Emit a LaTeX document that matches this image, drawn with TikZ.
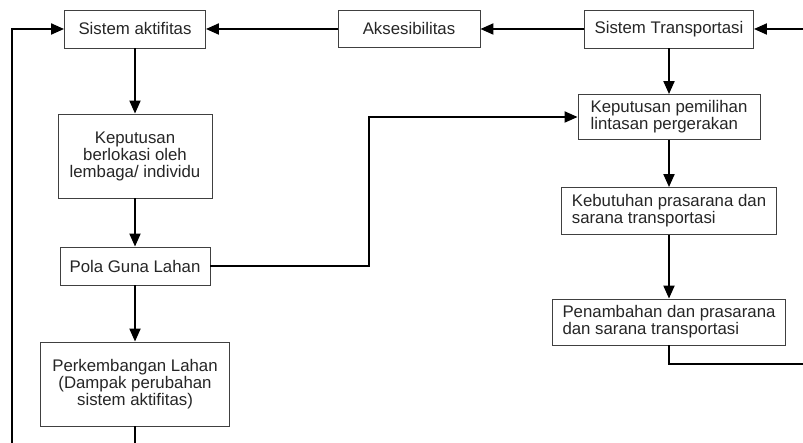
\documentclass[tikz,border=0pt]{standalone}
\usepackage{fontspec}
\setmainfont{Liberation Sans}
\usetikzlibrary{arrows.meta}
\begin{document}
\begin{tikzpicture}[x=1pt,y=-1pt,line join=miter,>={Triangle[length=13pt,width=11pt]},
  font=\fontsize{16.8}{17}\selectfont,
  kotak/.style={draw=black!75,line width=0.9pt,fill=white,text=black!85,inner sep=0pt},
  panah/.style={line width=2pt,->},
  garis/.style={line width=2pt}]
 \def\xmax{803}\def\ymax{443}
 \useasboundingbox (0,0) rectangle (\xmax,\ymax);
 % kolom kiri
 \node[kotak,minimum width=141pt,minimum height=38pt] (aktif) at (135,29) {Sistem aktifitas};
 \node[kotak,minimum width=154pt,minimum height=84pt,align=center] (lokasi) at (135,156) {Keputusan\\berlokasi oleh\\lembaga/ individu};
 \node[kotak,minimum width=150pt,minimum height=38pt] (pola) at (135,266) {Pola Guna Lahan};
 \node[kotak,minimum width=189pt,minimum height=84pt,align=center] (kembang) at (135,384) {Perkembangan Lahan\\(Dampak perubahan\\sistem aktifitas)};
 % baris atas
 \node[kotak,minimum width=142pt,minimum height=37pt] (akses) at (409,29) {Aksesibilitas};
 % kolom kanan
 \node[kotak,minimum width=169pt,minimum height=38pt] (trans) at (669,29) {Sistem Transportasi};
 \node[kotak,minimum width=182pt,minimum height=45pt,align=left] (lintas) at (669,117) {Keputusan pemilihan\\lintasan pergerakan};
 \node[kotak,minimum width=215pt,minimum height=47pt,align=left] (butuh) at (669,211) {Kebutuhan prasarana dan\\sarana transportasi};
 \node[kotak,minimum width=233pt,minimum height=46pt,align=left] (tambah) at (669,322) {Penambahan dan prasarana\\dan sarana transportasi};
 % ujung garis di tepi
 \coordinate (kiri) at (12,\ymax);
 \coordinate (kananatas) at (\xmax,29);
 \coordinate (kananbawah) at (\xmax,364);
 % panah
 \draw[panah] (kananatas) -- (trans);
 \draw[panah] (trans) -- (akses);
 \draw[panah] (akses) -- (aktif);
 \draw[panah] (kiri) |- (aktif.west);
 \draw[panah] (aktif) -- (lokasi);
 \draw[panah] (lokasi) -- (pola);
 \draw[panah] (pola) -- (kembang);
 \draw[garis] (kembang.south) -- (kembang.south |- kiri);
 \draw[panah] (pola.east) -- ++(159,0) |- (lintas.west);
 \draw[panah] (trans) -- (lintas);
 \draw[panah] (lintas) -- (butuh);
 \draw[panah] (butuh) -- (tambah);
 \draw[garis] (tambah.south) |- (kananbawah);
\end{tikzpicture}
\end{document}
